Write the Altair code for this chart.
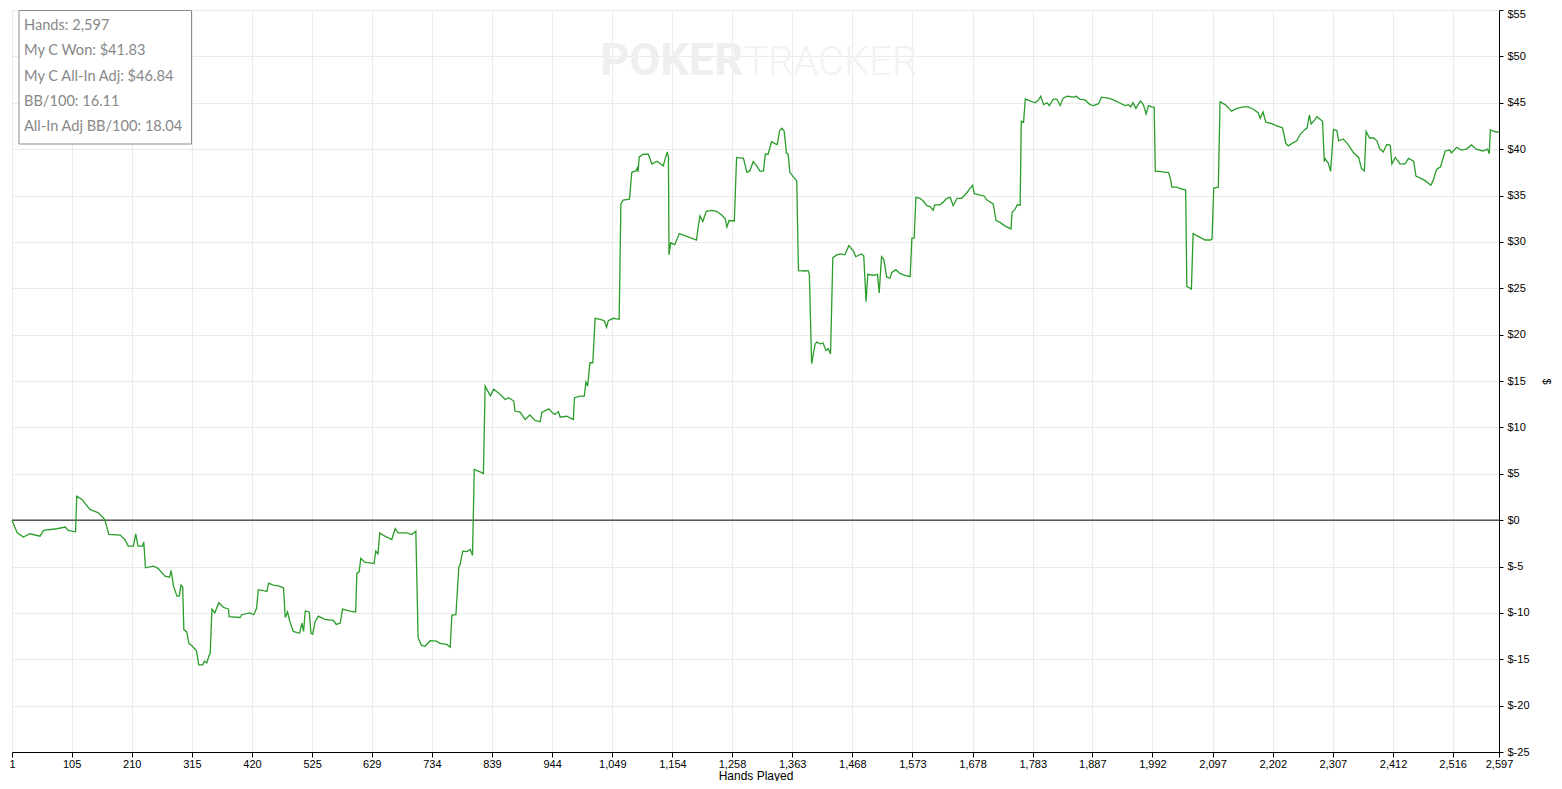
import altair as alt
import pandas as pd

# ---- data ----
hands = [
    1, 10, 21, 32, 50, 56, 79, 94, 99, 112,
    114, 123, 137, 152, 163, 170, 190, 198, 204, 213,
    217, 221, 229, 231, 234, 248, 256, 268, 276, 279,
    283, 289, 293, 296, 299, 301, 306, 310, 316, 323,
    327, 334, 337, 341, 345, 347, 350, 355, 362, 370,
    379, 380, 399, 402, 416, 423, 428, 431, 440, 446,
    449, 457, 466, 475, 478, 482, 486, 492, 503, 507,
    510, 513, 520, 523, 526, 530, 536, 547, 562, 567,
    574, 578, 591, 601, 603, 607, 610, 617, 633, 636,
    640, 643, 652, 664, 670, 675, 690, 699, 706, 710,
    716, 722, 731, 742, 748, 760, 766, 769, 776, 781,
    783, 788, 795, 801, 805, 808, 815, 824, 827, 836,
    842, 853, 862, 868, 877, 879, 888, 897, 905, 914,
    923, 926, 938, 944, 949, 955, 958, 969, 981, 983,
    993, 1000, 1003, 1006, 1010, 1015, 1019, 1028, 1035, 1039,
    1042, 1051, 1061, 1064, 1068, 1079, 1083, 1090, 1093, 1094,
    1096, 1103, 1112, 1118, 1127, 1138, 1141, 1145, 1147, 1148,
    1151, 1158, 1166, 1179, 1196, 1199, 1202, 1207, 1213, 1223,
    1231, 1240, 1246, 1249, 1253, 1262, 1266, 1278, 1284, 1289,
    1295, 1301, 1307, 1313, 1316, 1321, 1327, 1333, 1337, 1341,
    1345, 1349, 1353, 1356, 1359, 1365, 1371, 1374, 1385, 1391,
    1393, 1397, 1403, 1406, 1412, 1417, 1422, 1426, 1430, 1434,
    1441, 1447, 1455, 1462, 1470, 1474, 1484, 1488, 1492, 1495,
    1505, 1512, 1515, 1519, 1523, 1528, 1534, 1537, 1544, 1551,
    1560, 1569, 1572, 1576, 1579, 1586, 1592, 1598, 1604, 1609,
    1612, 1621, 1627, 1633, 1639, 1644, 1651, 1659, 1668, 1674,
    1678, 1681, 1688, 1698, 1703, 1714, 1719, 1726, 1735, 1745,
    1747, 1752, 1756, 1761, 1763, 1767, 1770, 1778, 1787, 1793,
    1797, 1802, 1808, 1812, 1819, 1825, 1831, 1836, 1843, 1854,
    1859, 1865, 1874, 1883, 1889, 1898, 1903, 1915, 1924, 1934,
    1944, 1950, 1954, 1958, 1963, 1971, 1976, 1981, 1985, 1991,
    1995, 1997, 2005, 2014, 2020, 2023, 2026, 2034, 2043, 2050,
    2052, 2060, 2063, 2072, 2084, 2093, 2096, 2099, 2107, 2110,
    2119, 2130, 2139, 2151, 2159, 2168, 2177, 2180, 2185, 2190,
    2200, 2209, 2219, 2225, 2229, 2238, 2244, 2250, 2258, 2262,
    2266, 2269, 2276, 2279, 2289, 2292, 2293, 2299, 2303, 2308,
    2314, 2317, 2325, 2334, 2343, 2352, 2357, 2362, 2365, 2371,
    2378, 2384, 2389, 2395, 2401, 2407, 2410, 2416, 2424, 2433,
    2439, 2448, 2452, 2459, 2468, 2478, 2482, 2488, 2495, 2503,
    2511, 2514, 2523, 2531, 2540, 2549, 2557, 2569, 2577, 2580,
    2582, 2589, 2597,
]

won = [
    0.0, -1.37, -1.83, -1.47, -1.73, -1.1, -0.93, -0.75, -1.1, -1.26,
    2.59, 2.23, 1.15, 0.79, 0.07, -1.55, -1.62, -2.09, -2.8, -2.8,
    -1.47, -2.8, -2.8, -2.34, -5.14, -4.96, -5.2, -6.04, -6.15, -5.43,
    -7.12, -8.2, -8.2, -7.0, -7.2, -11.8, -12.05, -13.3, -13.6, -14.1,
    -15.6, -15.6, -15.2, -15.4, -14.6, -14.4, -9.6, -10.0, -8.9, -9.4,
    -9.6, -10.4, -10.5, -10.2, -10.0, -10.2, -9.5, -7.5, -7.6, -7.7,
    -6.8, -7.0, -7.1, -7.3, -10.5, -9.9, -10.9, -12.0, -12.2, -11.1,
    -12.0, -9.8, -9.9, -12.2, -12.3, -10.97, -10.36, -10.7, -10.8, -11.25,
    -11.1, -9.6, -9.8, -9.9, -5.75, -5.57, -4.13, -4.53, -4.68, -3.34,
    -3.63, -1.37, -1.73, -2.09, -0.9, -1.37, -1.37, -1.55, -1.19, -12.7,
    -13.5, -13.6, -13.0, -13.05, -13.3, -13.4, -13.7, -10.25, -10.2, -5.1,
    -4.85, -3.34, -3.4, -3.17, -3.8, 5.47, 5.29, 5.04, 14.45, 13.4,
    14.1, 13.56, 13.0, 13.2, 12.84, 11.76, 11.65, 10.86, 11.33, 10.75,
    10.6, 11.6, 12.0, 11.6, 11.4, 11.7, 11.1, 11.2, 10.86, 13.2,
    13.38, 13.38, 14.9, 14.45, 16.97, 16.97, 21.76, 21.65, 21.5, 20.8,
    21.5, 21.76, 21.65, 34.1, 34.5, 34.6, 37.5, 37.65, 38.0, 37.54,
    39.16, 39.45, 39.45, 38.4, 38.7, 38.2, 38.9, 39.7, 39.1, 28.6,
    29.9, 29.7, 30.9, 30.6, 30.2, 31.6, 32.8, 32.2, 33.3, 33.4,
    33.3, 32.9, 32.5, 31.6, 32.3, 32.25, 39.1, 39.0, 37.5, 37.65,
    38.65, 38.2, 37.6, 37.65, 39.45, 39.45, 40.8, 40.6, 40.5, 41.96,
    42.25, 41.96, 39.6, 39.45, 37.5, 37.0, 36.57, 26.9, 26.86, 26.9,
    26.5, 16.86, 18.95, 19.2, 19.0, 19.1, 18.3, 18.5, 17.9, 28.3,
    28.6, 28.7, 28.6, 29.6, 29.0, 28.4, 28.7, 28.5, 23.55, 26.5,
    26.4, 26.5, 24.5, 28.4, 28.1, 26.2, 26.1, 26.7, 27.0, 26.6,
    26.4, 26.25, 30.4, 30.4, 34.8, 34.7, 34.4, 33.9, 33.8, 33.4,
    34.0, 34.0, 34.3, 34.7, 34.8, 33.9, 34.7, 34.7, 35.3, 35.8,
    36.1, 35.2, 35.1, 34.95, 34.5, 34.1, 32.3, 32.1, 31.7, 31.4,
    33.2, 33.5, 34.0, 33.95, 43.0, 42.9, 45.4, 45.2, 45.0, 45.3,
    45.7, 44.8, 45.0, 44.7, 45.4, 45.4, 44.7, 45.5, 45.7, 45.6,
    45.7, 45.4, 45.3, 44.8, 44.7, 44.9, 45.6, 45.5, 45.3, 45.0,
    44.7, 44.8, 44.55, 45.0, 44.4, 45.2, 44.8, 43.8, 44.7, 44.55,
    44.5, 37.6, 37.6, 37.5, 37.5, 36.9, 35.9, 35.9, 35.7, 35.6,
    25.2, 24.9, 30.9, 30.6, 30.2, 30.2, 30.3, 35.8, 35.9, 45.1,
    44.8, 44.1, 44.4, 44.55, 44.55, 44.3, 43.9, 43.3, 44.0, 42.9,
    42.75, 42.5, 42.3, 40.6, 40.35, 40.7, 40.9, 41.6, 42.1, 42.3,
    43.7, 42.7, 43.2, 43.5, 43.0, 38.65, 39.0, 38.5, 37.6, 42.1,
    42.0, 40.9, 41.1, 40.45, 39.6, 39.1, 37.9, 37.65, 41.9, 41.2,
    41.2, 40.9, 40.0, 39.7, 40.5, 40.45, 38.4, 39.1, 38.4, 38.4,
    39.0, 38.7, 37.1, 36.9, 36.6, 36.1, 36.6, 37.8, 38.1, 39.8,
    39.9, 39.6, 40.2, 39.9, 40.0, 40.45, 40.0, 39.8, 40.0, 39.5,
    42.1, 41.9, 41.83,
]

assert len(hands) == len(won)

x_ticks = [1, 105, 210, 315, 420, 525, 629, 734, 839, 944, 1049, 1154, 1258,
           1363, 1468, 1573, 1678, 1783, 1887, 1992, 2097, 2202, 2307, 2412,
           2516, 2597]
y_ticks = [-25, -20, -15, -10, -5, 0, 5, 10, 15, 20, 25, 30, 35, 40, 45, 50, 55]

stats_lines = [
    "Hands: 2,597",
    "My C Won: $41.83",
    "My C All-In Adj: $46.84",
    "BB/100: 16.11",
    "All-In Adj BB/100: 18.04",
]

AX_FONT = "Liberation Sans, Arial, sans-serif"
BOX_FONT = "Segoe UI, Lato, Open Sans, sans-serif"

df = pd.DataFrame({"hand": hands, "won": won})
one = pd.DataFrame({"k": [0]})

x_enc = alt.X(
    "hand:Q",
    scale=alt.Scale(domain=[1, 2597], nice=False, zero=False),
    axis=alt.Axis(
        values=x_ticks, labelExpr="format(datum.value, ',')", title="Hands Played",
        grid=True, gridColor="#ebebeb", gridWidth=1,
        domainColor="black", tickColor="black", tickSize=5,
        labelFont=AX_FONT, labelFontSize=11, labelColor="#000000",
        labelPadding=1, labelFlush=False, labelOverlap=False,
        titleFont=AX_FONT, titleFontSize=12, titleFontWeight="normal",
        titleColor="#000000", titlePadding=1,
    ),
)
y_enc = alt.Y(
    "won:Q",
    scale=alt.Scale(domain=[-25, 55], nice=False, zero=False),
    axis=alt.Axis(
        orient="right", values=y_ticks, labelExpr="'$' + datum.value",
        title="$", titleAngle=90,
        grid=True, gridColor="#ebebeb", gridWidth=1,
        domainColor="black", tickColor="black", tickSize=4,
        labelFont=AX_FONT, labelFontSize=11, labelColor="#000000",
        labelPadding=4, labelFlush=False, labelOverlap=False,
        labelOffset={"condition": {"test": "datum.value == 55", "value": 4}, "value": 0},
        titleFont=AX_FONT, titleFontSize=11, titleFontWeight="normal",
        titleColor="#000000", titlePadding=11,
    ),
)

line = alt.Chart(df).mark_line(color="#2a9d2a", strokeWidth=1.3, interpolate="linear").encode(
    x=x_enc, y=y_enc
)

zero = alt.Chart(one).mark_rule(color="black", strokeWidth=1).encode(y=alt.datum(0))

wm_poker = alt.Chart(one).mark_text(
    text="POKER", font="Roboto, sans-serif", fontSize=45, fontWeight="bold",
    color="#efefef", align="right", baseline="alphabetic",
).encode(x=alt.value(731), y=alt.value(65))
wm_tracker = alt.Chart(one).mark_text(
    text="TRACKER", font="Roboto, sans-serif", fontSize=40, fontWeight=300,
    color="#f2f2f2", align="left", baseline="alphabetic",
).encode(x=alt.value(732), y=alt.value(65))

box = alt.Chart(one).mark_rect(fill="white", stroke="#8c8c8c", strokeWidth=1).encode(
    x=alt.value(7), x2=alt.value(179.5), y=alt.value(0.5), y2=alt.value(134)
)

text_layers = []
for i, s in enumerate(stats_lines):
    text_layers.append(
        alt.Chart(one).mark_text(
            text=s, font=BOX_FONT, fontSize=14.6, color="#888888",
            align="left", baseline="alphabetic",
        ).encode(x=alt.value(12), y=alt.value(20 + i * 25.3))
    )

chart = alt.layer(wm_poker, wm_tracker, zero, line, box, *text_layers).properties(
    width=1487, height=742,
    autosize=alt.AutoSizeParams(type="none"),
    padding={"left": 4, "top": 2, "right": 54, "bottom": 29},
).configure_view(stroke="black", strokeWidth=1).configure(background="white")

chart.save("out.html", embed_options={"renderer": "svg", "actions": False})
